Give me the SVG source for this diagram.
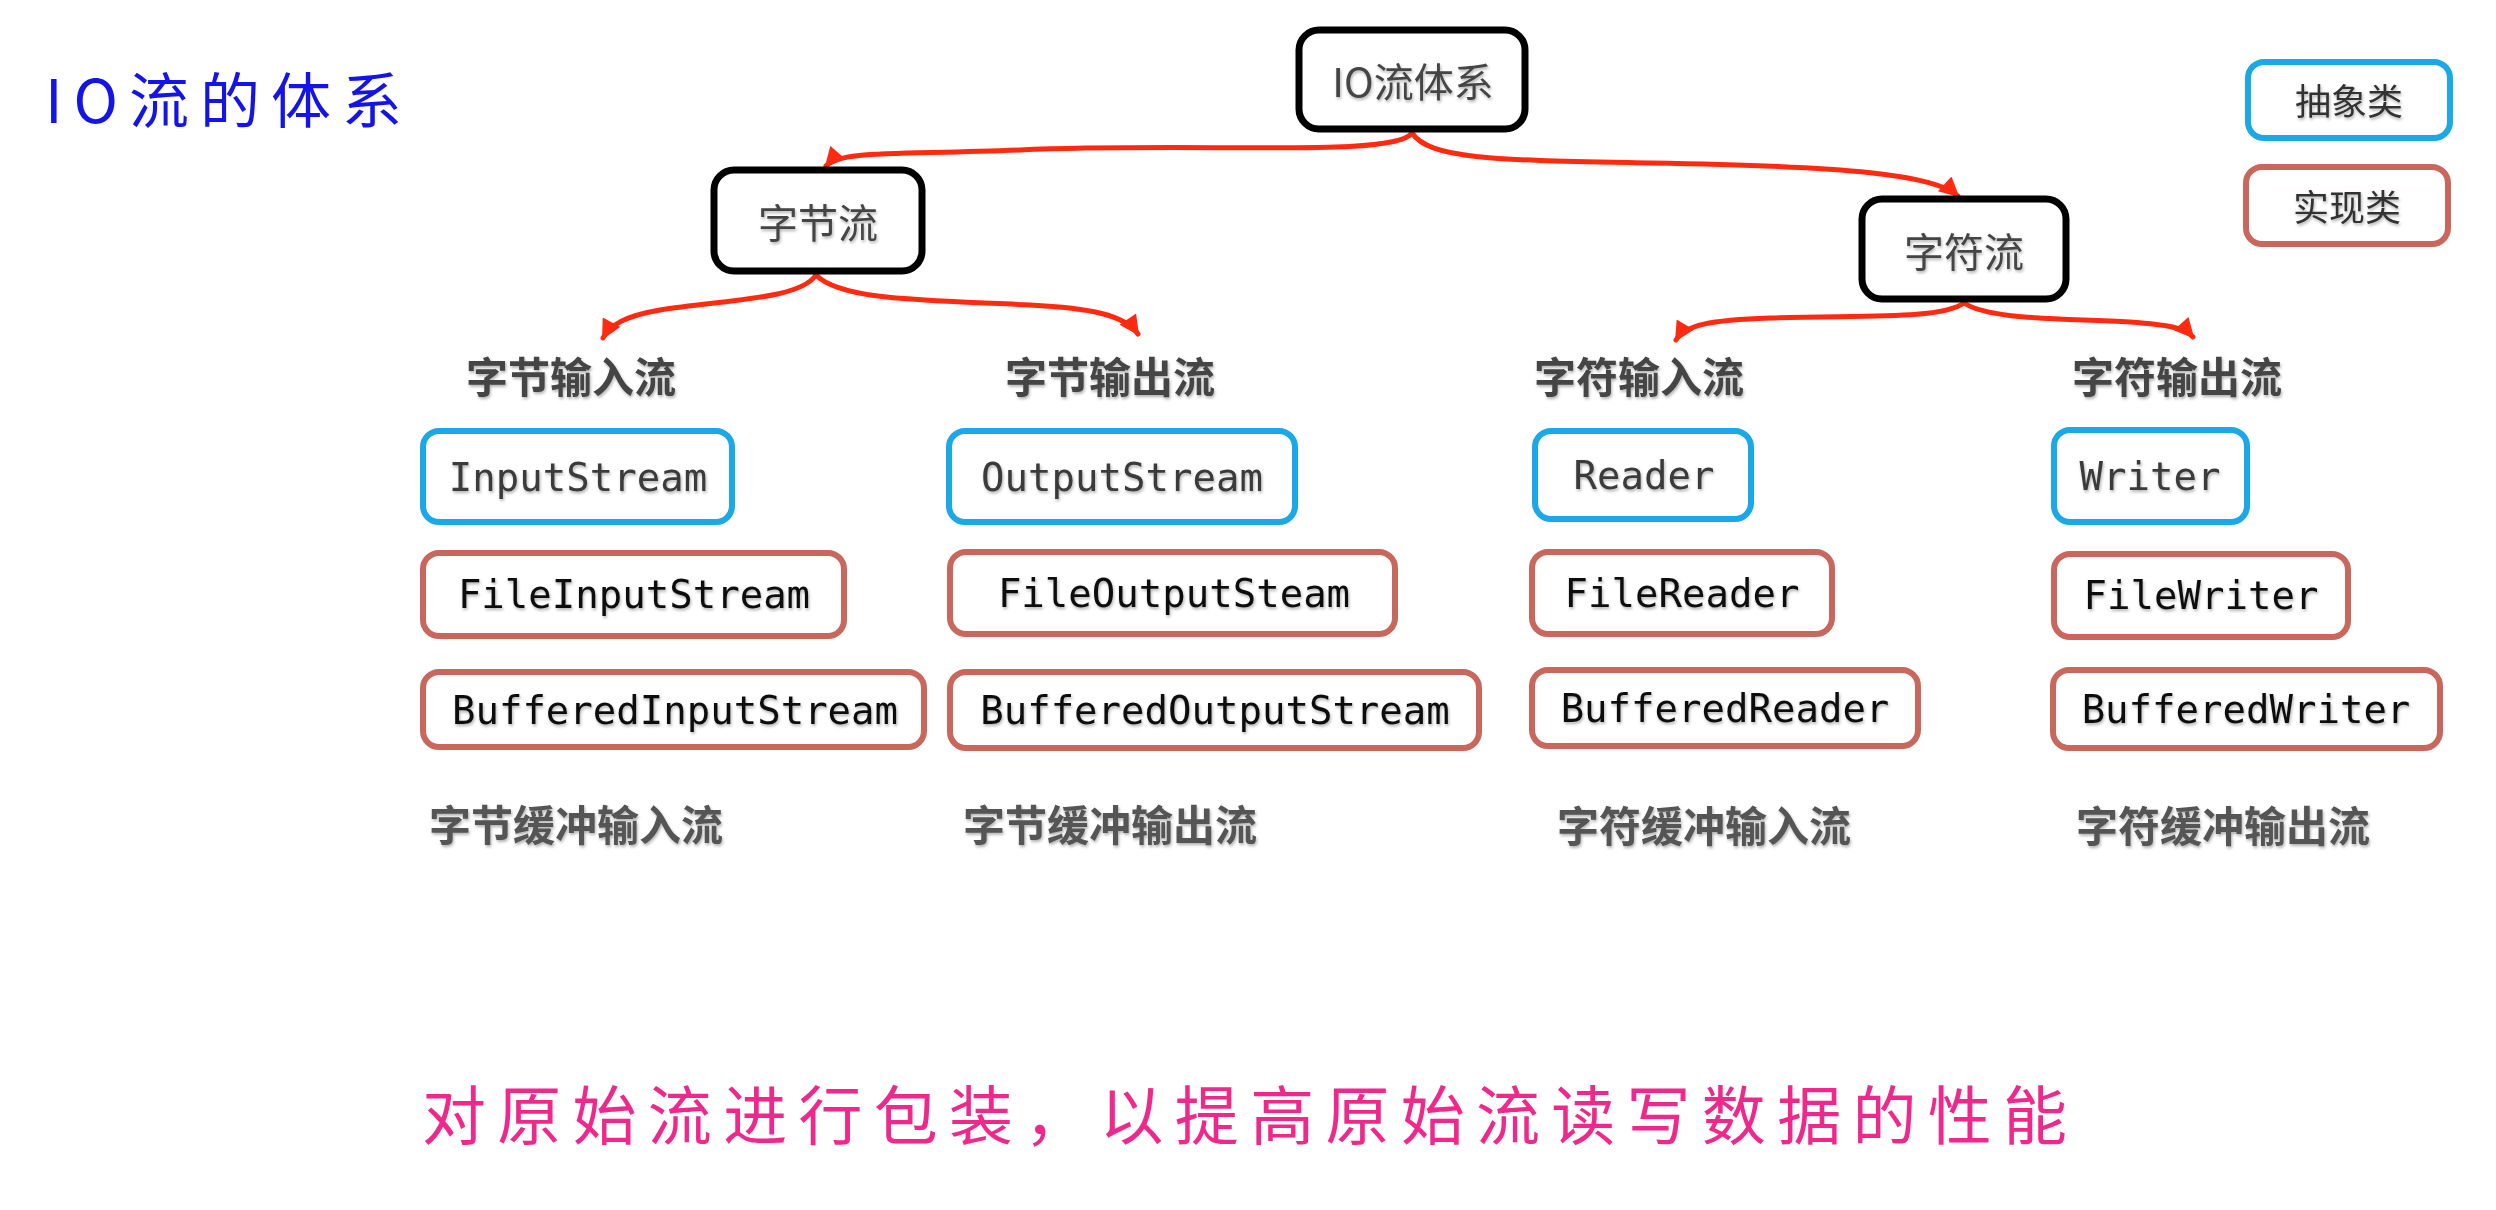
<svg xmlns="http://www.w3.org/2000/svg" width="2496" height="1210" viewBox="0 0 2496 1210">
<style>
.blk{fill:#fff;stroke:#000;stroke-width:7}
.abs{fill:#fff;stroke:#1aa8e8;stroke-width:6}
.imp{fill:#fff;stroke:#c9675c;stroke-width:6}
.t{font-family:"Noto Sans CJK SC","Noto Sans",sans-serif;text-anchor:middle;dominant-baseline:central;filter:url(#sh)}
.bt{font-size:40px;fill:#444}
.lg{font-size:36px;fill:#333}
.cat{font-size:42px;font-weight:bold;fill:#444}
.sub{font-size:42px;font-weight:bold;fill:#555}
.m{font-family:"DejaVu Sans Mono","Liberation Mono",monospace;font-size:39px;text-anchor:middle;dominant-baseline:central;filter:url(#sh)}
.ma{fill:#3a3a3a}
.mi{fill:#111}
.c{fill:none;stroke:#ff2a10;stroke-width:5;stroke-linecap:round}
</style>
<defs>
<filter id="sh" x="-10%" y="-30%" width="120%" height="160%">
<feDropShadow dx="1" dy="2" stdDeviation="1.5" flood-color="#000" flood-opacity="0.3"/>
</filter>
<marker id="ah" viewBox="0 0 10 10" refX="9" refY="5" markerWidth="22" markerHeight="20" markerUnits="userSpaceOnUse" orient="auto">
<path d="M0,0 L10,5 L0,10 z" fill="#ff2a10"/>
</marker>
</defs>
<rect width="2496" height="1210" fill="#fff"/>

<text x="45" y="96" font-family="Noto Sans CJK SC,sans-serif" font-size="60" font-weight="400" fill="#1414e8" dominant-baseline="central" textLength="357" lengthAdjust="spacing">IO流的体系</text>

<g id="connectors">
<path class="c" marker-end="url(#ah)" d="M1412,133 C1395,158 1200,142 1020,150 C900,155 840,150 826,166"/>
<path class="c" marker-end="url(#ah)" d="M1412,133 C1430,160 1500,160 1650,163 C1850,166 1935,175 1958,196"/>
<path class="c" marker-end="url(#ah)" d="M816,275 C800,300 720,300 660,310 C625,316 610,325 603,338"/>
<path class="c" marker-end="url(#ah)" d="M816,275 C840,300 920,300 1030,305 C1090,308 1125,315 1138,334"/>
<path class="c" marker-end="url(#ah)" d="M1964,303 C1940,320 1860,315 1770,318 C1710,320 1685,325 1676,340"/>
<path class="c" marker-end="url(#ah)" d="M1964,303 C1990,320 2060,318 2130,322 C2170,325 2185,328 2193,337"/>
</g>

<g id="root"><rect class="blk" x="1299" y="30" width="226" height="99" rx="20"/><text class="t bt" x="1413" y="80" font-size="37">IO流体系</text></g>
<g id="byte"><rect class="blk" x="714" y="170" width="208" height="101" rx="20"/><text class="t bt" x="818" y="221">字节流</text></g>
<g id="char"><rect class="blk" x="1862" y="199" width="204" height="100" rx="20"/><text class="t bt" x="1964" y="250">字符流</text></g>

<g id="legend-abstract"><rect class="abs" x="2248" y="62" width="202" height="76" rx="16"/><text class="t lg" x="2349" y="99">抽象类</text></g>
<g id="legend-impl"><rect class="imp" x="2246" y="167" width="202" height="77" rx="16"/><text class="t lg" x="2347" y="205">实现类</text></g>

<g id="cat-byte-in"><text class="t cat" x="571" y="374">字节输入流</text></g>
<g id="cat-byte-out"><text class="t cat" x="1110" y="374">字节输出流</text></g>
<g id="cat-char-in"><text class="t cat" x="1639" y="374">字符输入流</text></g>
<g id="cat-char-out"><text class="t cat" x="2177" y="374">字符输出流</text></g>

<g id="InputStream"><rect class="abs" x="423" y="431" width="309" height="91" rx="16"/><text class="m ma" x="578" y="477">InputStream</text></g>
<g id="OutputStream"><rect class="abs" x="949" y="431" width="346" height="91" rx="16"/><text class="m ma" x="1122" y="477">OutputStream</text></g>
<g id="Reader"><rect class="abs" x="1535" y="431" width="216" height="88" rx="16"/><text class="m ma" x="1644" y="475">Reader</text></g>
<g id="Writer"><rect class="abs" x="2054" y="430" width="193" height="92" rx="16"/><text class="m ma" x="2150" y="476">Writer</text></g>

<g id="FileInputStream"><rect class="imp" x="423" y="553" width="421" height="83" rx="16"/><text class="m mi" x="634" y="594">FileInputStream</text></g>
<g id="FileOutputSteam"><rect class="imp" x="950" y="552" width="445" height="82" rx="16"/><text class="m mi" x="1174" y="593">FileOutputSteam</text></g>
<g id="FileReader"><rect class="imp" x="1532" y="552" width="300" height="82" rx="16"/><text class="m mi" x="1682" y="593">FileReader</text></g>
<g id="FileWriter"><rect class="imp" x="2054" y="554" width="294" height="83" rx="16"/><text class="m mi" x="2201" y="595">FileWriter</text></g>

<g id="BufferedInputStream"><rect class="imp" x="423" y="672" width="501" height="75" rx="16"/><text class="m mi" x="675" y="710">BufferedInputStream</text></g>
<g id="BufferedOutputStream"><rect class="imp" x="950" y="672" width="529" height="76" rx="16"/><text class="m mi" x="1215" y="710">BufferedOutputStream</text></g>
<g id="BufferedReader"><rect class="imp" x="1532" y="670" width="386" height="76" rx="16"/><text class="m mi" x="1725" y="708">BufferedReader</text></g>
<g id="BufferedWriter"><rect class="imp" x="2053" y="670" width="387" height="78" rx="16"/><text class="m mi" x="2246" y="709">BufferedWriter</text></g>

<g id="sub-byte-in"><text class="t sub" x="576" y="822">字节缓冲输入流</text></g>
<g id="sub-byte-out"><text class="t sub" x="1110" y="822">字节缓冲输出流</text></g>
<g id="sub-char-in"><text class="t sub" x="1704" y="823">字符缓冲输入流</text></g>
<g id="sub-char-out"><text class="t sub" x="2223" y="823">字符缓冲输出流</text></g>

<text x="422" y="1111" font-family="Noto Sans CJK SC,sans-serif" font-size="64" font-weight="400" fill="#f0288c" dominant-baseline="central" textLength="1645" lengthAdjust="spacing">对原始流进行包装，以提高原始流读写数据的性能</text>
</svg>
